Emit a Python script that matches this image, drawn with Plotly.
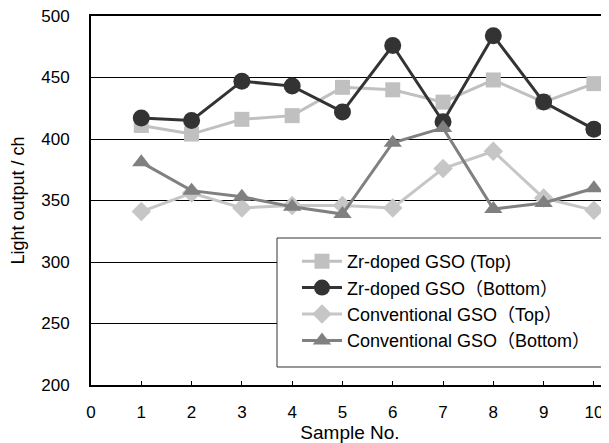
import plotly.graph_objects as go

samples = [1, 2, 3, 4, 5, 6, 7, 8, 9, 10]
zr_top = [411, 404, 416, 419, 442, 440, 430, 448, 430, 445]
zr_bottom = [417, 415, 447, 443, 422, 476, 414, 484, 430, 408]
conv_top = [341, 356, 344, 346, 346, 344, 376, 390, 352, 342]
conv_bottom = [381, 358, 353, 345, 339, 397, 409, 343, 348, 360]

names = ["Zr-doped GSO (Top)", "Zr-doped GSO（Bottom）",
         "Conventional GSO（Top）", "Conventional GSO（Bottom）"]
x_ticks = [0, 1, 2, 3, 4, 5, 6, 7, 8, 9, 10]
y_ticks = [200, 250, 300, 350, 400, 450, 500]

font = "Liberation Sans, Arial, Noto Sans CJK JP, sans-serif"

# page has an 8px body margin; figure sized to fit window
W, H = 601, 435
L, R, T, B = 83, 0, 8, 58
PW, PH = W - L - R, H - T - B

def px_x(x):  # reference pixel -> paper fraction
    return (x - 8 - L) / PW

def px_y(y):
    return (H - B - (y - 8)) / PH

fig = go.Figure()
styles = [
    (zr_top, "#c0c0c0", "square", 15),
    (zr_bottom, "#333333", "circle", 17),
    (conv_top, "#c6c6c6", "diamond", 15),
    (conv_bottom, "#808080", "triangle-up", 16),
]
for i, ((vals, col, sym, sz), nm) in enumerate(zip(styles, names)):
    fig.add_trace(go.Scatter(
        x=samples, y=vals, name=nm, mode="lines+markers", legendgroup=f"g{i}",
        line=dict(color=col, width=3),
        marker=dict(symbol=sym, size=sz, color=col),
    ))

# legend frame (covers the plot behind the legend)
fig.add_shape(type="rect", xref="paper", yref="paper", layer="above",
              x0=px_x(277), x1=px_x(607), y0=px_y(367), y1=px_y(238),
              fillcolor="white", line=dict(color="#333333", width=1))

fig.update_layout(
    width=W, height=H,
    margin=dict(l=L, r=R, t=T, b=B, autoexpand=False),
    paper_bgcolor="white", plot_bgcolor="white",
    font=dict(family=font, size=17, color="black"),
    showlegend=True,
    legend=dict(
        x=px_x(297), y=px_y(243), xanchor="left", yanchor="top",
        bgcolor="rgba(0,0,0,0)", borderwidth=0,
        font=dict(family=font, size=18, color="black"),
        traceorder="grouped", tracegroupgap=0, itemwidth=40,
    ),
    xaxis=dict(
        range=[0, 10.3], tickmode="array", tickvals=x_ticks,
        ticks="inside", ticklen=4, tickwidth=1, tickcolor="black",
        showline=True, linecolor="black", linewidth=2, mirror=True,
        showgrid=False, zeroline=False, ticklabelstandoff=11,
        ticklabeloverflow="allow", automargin=False,
        title=dict(text="Sample No.", font=dict(size=19), standoff=11),
    ),
    yaxis=dict(
        range=[200, 500], tickmode="array", tickvals=y_ticks,
        ticks="inside", ticklen=4, tickwidth=1, tickcolor="black",
        showline=True, linecolor="black", linewidth=2,
        showgrid=True, gridcolor="black", gridwidth=1, zeroline=False,
        ticklabelstandoff=16, ticklabeloverflow="allow", automargin=False,
        title=dict(text="Light output / ch", font=dict(size=18), standoff=12),
    ),
)

fig.write_html("out.html")
